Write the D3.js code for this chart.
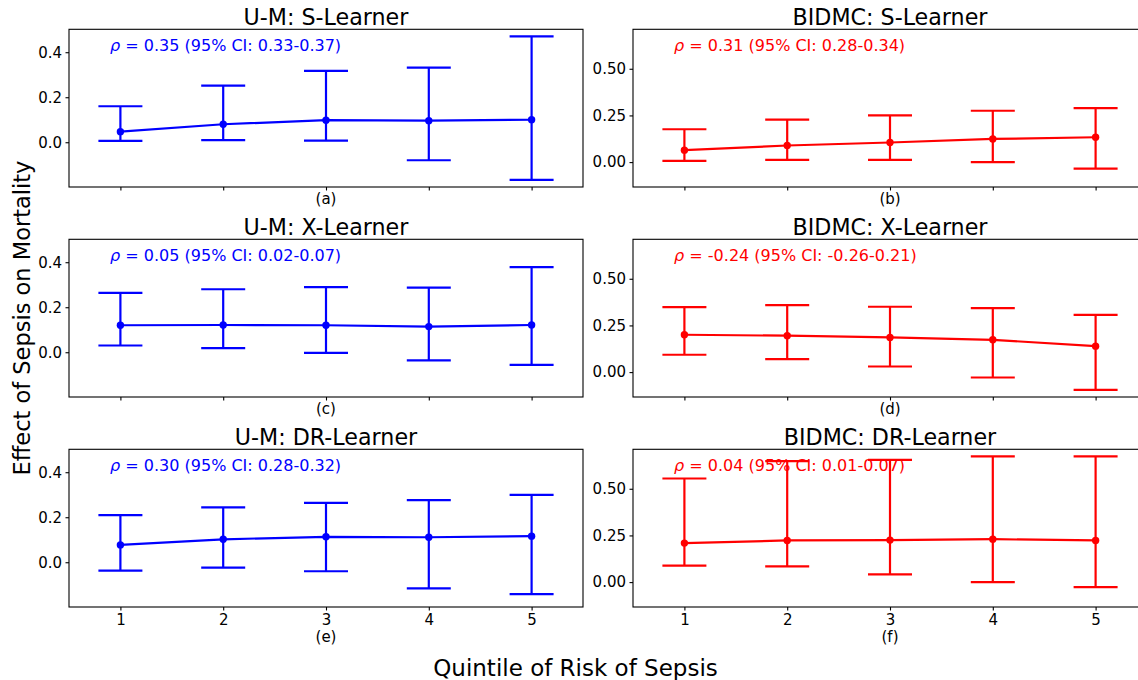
<!DOCTYPE html>
<html>
<head>
<meta charset="utf-8">
<script src="https://cdn.jsdelivr.net/npm/d3@7"></script>
<style>
  html, body { margin: 0; padding: 0; background: #fff; }
  svg { display: block; font-family: "DejaVu Sans", sans-serif; }
</style>
</head>
<body>
<svg id="chart" width="1138" height="680"></svg>
<script>
// Quintiles of sepsis risk (x axis)
const quintiles = [1, 2, 3, 4, 5];
const quintileLabels = ["1", "2", "3", "4", "5"];

// U-M cohort: estimated effect of sepsis on mortality with 95% CI bounds
const umS_est = [0.047, 0.080, 0.098, 0.096, 0.100];
const umS_lo  = [0.006, 0.009, 0.007, -0.080, -0.167];
const umS_hi  = [0.160, 0.252, 0.317, 0.332, 0.470];

const umX_est = [0.120, 0.121, 0.120, 0.114, 0.121];
const umX_lo  = [0.030, 0.018, -0.003, -0.036, -0.056];
const umX_hi  = [0.264, 0.280, 0.289, 0.287, 0.378];

const umDR_est = [0.077, 0.102, 0.113, 0.111, 0.116];
const umDR_lo  = [-0.037, -0.024, -0.040, -0.116, -0.142];
const umDR_hi  = [0.209, 0.244, 0.264, 0.276, 0.299];

// BIDMC cohort
const bidS_est = [0.064, 0.089, 0.105, 0.124, 0.133];
const bidS_lo  = [0.007, 0.012, 0.012, 0.000, -0.035];
const bidS_hi  = [0.176, 0.227, 0.250, 0.275, 0.289];

const bidX_est = [0.200, 0.195, 0.186, 0.173, 0.139];
const bidX_lo  = [0.093, 0.070, 0.030, -0.029, -0.095];
const bidX_hi  = [0.348, 0.359, 0.350, 0.343, 0.307];

const bidDR_est = [0.209, 0.223, 0.225, 0.230, 0.223];
const bidDR_lo  = [0.088, 0.084, 0.041, 0.000, -0.027];
const bidDR_hi  = [0.555, 0.648, 0.655, 0.673, 0.673];

// Panel titles, correlation annotations and sub-labels
const titles = ["U-M: S-Learner", "BIDMC: S-Learner", "U-M: X-Learner", "BIDMC: X-Learner", "U-M: DR-Learner", "BIDMC: DR-Learner"];
const rhoValues = ["0.35 (95% CI: 0.33-0.37)", "0.31 (95% CI: 0.28-0.34)", "0.05 (95% CI: 0.02-0.07)", "-0.24 (95% CI: -0.26-0.21)", "0.30 (95% CI: 0.28-0.32)", "0.04 (95% CI: 0.01-0.07)"];
const subLabels = ["(a)", "(b)", "(c)", "(d)", "(e)", "(f)"];

// Y tick values per column
const umTicks = [0.0, 0.2, 0.4];
const bidTicks = [0.00, 0.25, 0.50];

// ---- layout ----
const svg = d3.select("#chart");
svg.append("rect").attr("width", 1138).attr("height", 680).attr("fill", "#fff");

const colLeft = [69, 633];
const panelW = 514;
const rowTop = [29.3, 239.3, 449.3];
const panelH = 157.7;
const colors = ["#0000ff", "#ff0000"];
const capHalf = 22;
const lineW = 2.2;
const tickFont = 15;

const panels = [
  { est: umS_est,  lo: umS_lo,  hi: umS_hi,  col: 0, row: 0 },
  { est: bidS_est, lo: bidS_lo, hi: bidS_hi, col: 1, row: 0 },
  { est: umX_est,  lo: umX_lo,  hi: umX_hi,  col: 0, row: 1 },
  { est: bidX_est, lo: bidX_lo, hi: bidX_hi, col: 1, row: 1 },
  { est: umDR_est, lo: umDR_lo, hi: umDR_hi, col: 0, row: 2 },
  { est: bidDR_est, lo: bidDR_lo, hi: bidDR_hi, col: 1, row: 2 }
];

// Shared y domain per column with 5% padding
function paddedDomain(cols) {
  const lo = d3.min(cols.flatMap(p => p.lo));
  const hi = d3.max(cols.flatMap(p => p.hi));
  const pad = (hi - lo) * 0.05;
  return [lo - pad, hi + pad];
}
const yDomains = [0, 1].map(c => paddedDomain(panels.filter(p => p.col === c)));
const yTicks = [umTicks, bidTicks];
const yFormats = [d3.format(".1f"), d3.format(".2f")];

panels.forEach((p, i) => {
  const x0 = colLeft[p.col], y0 = rowTop[p.row];
  const color = colors[p.col];
  const g = svg.append("g").attr("transform", `translate(${x0},${y0})`);

  const x = d3.scaleLinear().domain([0.5, 5.5]).range([0, panelW]);
  const y = d3.scaleLinear().domain(yDomains[p.col]).range([panelH, 0]);

  // y axis
  const ya = g.append("g")
    .call(d3.axisLeft(y).tickValues(yTicks[p.col]).tickFormat(yFormats[p.col])
      .tickSize(3.5).tickPadding(3.5).tickSizeOuter(0));
  ya.select(".domain").remove();
  ya.selectAll("text").attr("font-size", tickFont).attr("fill", "#000").attr("font-family", "DejaVu Sans");
  ya.selectAll("line").attr("stroke", "#000").attr("stroke-width", 1.1);

  // x axis (labels only on the bottom row)
  const xa = g.append("g").attr("transform", `translate(0,${panelH})`)
    .call(d3.axisBottom(x).tickValues(quintiles)
      .tickFormat((d, k) => p.row === 2 ? quintileLabels[k] : "")
      .tickSize(3.5).tickPadding(3.5).tickSizeOuter(0));
  xa.select(".domain").remove();
  xa.selectAll("text").attr("font-size", tickFont).attr("fill", "#000").attr("font-family", "DejaVu Sans");
  xa.selectAll("line").attr("stroke", "#000").attr("stroke-width", 1.1);

  // annotation
  const t = g.append("text")
    .attr("x", panelW * 0.08)
    .attr("y", 21.5)
    .attr("font-size", 16)
    .attr("fill", color);
  t.append("tspan").attr("font-style", "italic").text("ρ");
  t.append("tspan").text(" = " + rhoValues[i]);

  // error bars
  const bars = g.append("g").selectAll("g").data(quintiles).join("g");
  bars.append("line")
    .attr("x1", d => x(d)).attr("x2", d => x(d))
    .attr("y1", (d, k) => y(p.lo[k])).attr("y2", (d, k) => y(p.hi[k]))
    .attr("stroke", color).attr("stroke-width", lineW);
  bars.append("line")
    .attr("x1", d => x(d) - capHalf).attr("x2", d => x(d) + capHalf)
    .attr("y1", (d, k) => y(p.hi[k])).attr("y2", (d, k) => y(p.hi[k]))
    .attr("stroke", color).attr("stroke-width", lineW);
  bars.append("line")
    .attr("x1", d => x(d) - capHalf).attr("x2", d => x(d) + capHalf)
    .attr("y1", (d, k) => y(p.lo[k])).attr("y2", (d, k) => y(p.lo[k]))
    .attr("stroke", color).attr("stroke-width", lineW);

  // estimate line and markers
  const line = d3.line().x((d, k) => x(quintiles[k])).y(d => y(d));
  g.append("path").datum(p.est).attr("d", line)
    .attr("fill", "none").attr("stroke", color).attr("stroke-width", lineW);
  g.selectAll("circle.pt").data(p.est).join("circle")
    .attr("class", "pt")
    .attr("cx", (d, k) => x(quintiles[k])).attr("cy", d => y(d))
    .attr("r", 3.7).attr("fill", color);

  // frame
  g.append("rect").attr("width", panelW).attr("height", panelH)
    .attr("fill", "none").attr("stroke", "#000").attr("stroke-width", 1.1);

  // title
  g.append("text").attr("x", panelW / 2).attr("y", -4.5)
    .attr("text-anchor", "middle").attr("font-size", 22.2).attr("fill", "#000")
    .text(titles[i]);

  // sub-label
  g.append("text").attr("x", panelW / 2)
    .attr("y", p.row === 2 ? panelH + 35 : panelH + 17)
    .attr("text-anchor", "middle").attr("font-size", tickFont).attr("fill", "#000")
    .text(subLabels[i]);
});

// shared axis labels
svg.append("text")
  .attr("transform", "translate(30,318) rotate(-90)")
  .attr("text-anchor", "middle").attr("font-size", 22.5).attr("fill", "#000")
  .text("Effect of Sepsis on Mortality");

svg.append("text")
  .attr("x", 575.5).attr("y", 676)
  .attr("text-anchor", "middle").attr("font-size", 23).attr("fill", "#000")
  .text("Quintile of Risk of Sepsis");
</script>
</body>
</html>
